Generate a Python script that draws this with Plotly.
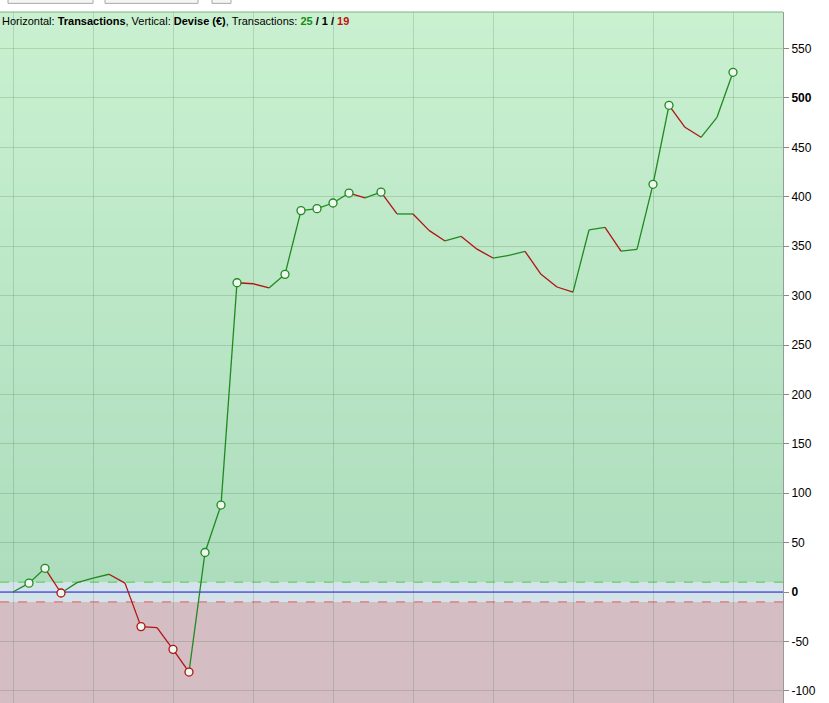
import plotly.graph_objects as go

# cumulated result after each transaction (0 = start)
trade_no = list(range(46))
equity = [0, 9, 24, -1, 9.5, 14, 18, 9, -35, -36, -58, -81, 40, 88, 313, 312,
          307.7, 321.5, 386, 388, 393.7, 403.8, 398.8, 404.8, 382.6, 382.6, 366,
          355.3, 360, 347, 338, 340.8, 344.8, 321.5, 308.7, 303.6, 366.4, 369.1,
          345, 346.8, 412.6, 492.6, 470.3, 460.2, 480.4, 526]
# points drawn with an open circle
marked = [1, 2, 3, 8, 10, 11, 12, 13, 14, 17, 18, 19, 20, 21, 23, 40, 41, 45]

y_ticks = [-100, -50, 0, 50, 100, 150, 200, 250, 300, 350, 400, 450, 500, 550]
y_ticktext = [("<b>%d</b>" % v) if v in (0, 500) else str(v) for v in y_ticks]

wins, losses, neutral = 25, 1, 19
threshold = 10

GREEN = "#1f8a1f"
RED = "#b01414"

fig = go.Figure()

# segments split by direction
gx, gy, rx, ry = [], [], [], []
for i in range(1, len(equity)):
    if equity[i] >= equity[i - 1]:
        gx += [trade_no[i - 1], trade_no[i], None]
        gy += [equity[i - 1], equity[i], None]
    else:
        rx += [trade_no[i - 1], trade_no[i], None]
        ry += [equity[i - 1], equity[i], None]

fig.add_trace(go.Scatter(x=gx, y=gy, mode="lines", line=dict(color=GREEN, width=1.3),
                         hoverinfo="skip", showlegend=False))
fig.add_trace(go.Scatter(x=rx, y=ry, mode="lines", line=dict(color=RED, width=1.3),
                         hoverinfo="skip", showlegend=False))

mcol = [RED if equity[i] < equity[i - 1] else GREEN for i in marked]
fig.add_trace(go.Scatter(
    x=[trade_no[i] for i in marked], y=[equity[i] for i in marked], mode="markers",
    marker=dict(size=8, color="#eef8ee", line=dict(color=mcol, width=1.3)),
    showlegend=False))

ymin, ymax = -112.3, 587

# background zones (vertical gradient in the green zone)
shapes = []
n = 40
top_c = (201, 241, 208)
bot_c = (173, 221, 189)
step = (ymax - threshold) / n
for k in range(n):
    t = k / (n - 1)
    c = tuple(int(round(bot_c[j] + (top_c[j] - bot_c[j]) * t)) for j in range(3))
    shapes.append(dict(type="rect", xref="paper", yref="y", x0=0, x1=1,
                       y0=threshold + k * step, y1=threshold + (k + 1) * step + 0.5,
                       fillcolor="rgb(%d,%d,%d)" % c, line_width=0, layer="below"))
shapes.append(dict(type="rect", xref="paper", yref="y", x0=0, x1=1, y0=-threshold,
                   y1=threshold, fillcolor="#d4e3ea", line_width=0, layer="below"))
shapes.append(dict(type="rect", xref="paper", yref="y", x0=0, x1=1, y0=ymin,
                   y1=-threshold, fillcolor="#d4bec4", line_width=0, layer="below"))
shapes.append(dict(type="line", xref="paper", yref="y", x0=0, x1=1, y0=threshold,
                   y1=threshold, line=dict(color="#4ccb4c", width=1, dash="dash"), layer="between"))
shapes.append(dict(type="line", xref="paper", yref="y", x0=0, x1=1, y0=-threshold,
                   y1=-threshold, line=dict(color="#e45a5a", width=1, dash="dash"), layer="between"))
shapes.append(dict(type="line", xref="paper", yref="y", x0=0, x1=1, y0=0, y1=0,
                   line=dict(color="#1c1ce8", width=1), layer="between"))
# top border
shapes.append(dict(type="line", xref="paper", yref="paper", x0=0, x1=1, y0=1, y1=1,
                   line=dict(color="#7fb08a", width=1)))
# cut-off toolbar buttons above the chart
for x0, x1 in [(8, 93), (105, 198), (212, 231)]:
    shapes.append(dict(type="rect", xref="paper", yref="paper", x0=x0 / 783, x1=x1 / 783,
                       y0=1.0125, y1=1.04, fillcolor="#f5f5f5",
                       line=dict(color="#a8a8a8", width=1)))

fig.update_layout(
    width=829, height=703,
    margin=dict(l=0, r=46, t=12, b=0, autoexpand=False),
    paper_bgcolor="white", plot_bgcolor="#c0ecc8",
    shapes=shapes,
    font=dict(family="Liberation Sans, Arial", size=12, color="black"),
    xaxis=dict(range=[-0.8125, 48.125], dtick=5, tick0=0, showticklabels=False,
               showgrid=True, gridcolor="rgba(60,90,60,0.19)", zeroline=False, ticks=""),
    yaxis=dict(range=[ymin, ymax], side="right", tickvals=y_ticks, ticktext=y_ticktext,
               showgrid=True, gridcolor="rgba(60,90,60,0.19)", zeroline=False,
               ticks="outside", ticklen=5, tickcolor="#888888",
               showline=True, linecolor="#999999", linewidth=1),
    annotations=[dict(
        xref="paper", yref="paper", x=0.0, y=0.999, xanchor="left", yanchor="top",
        showarrow=False, align="left", font=dict(size=11),
        text=("Horizontal: <b>Transactions</b>, Vertical: <b>Devise (€)</b>, Transactions: "
              "<b><span style='color:#1a8a1a'>%d</span> / %d / "
              "<span style='color:#c01010'>%d</span></b>") % (wins, losses, neutral))],
)

# drop the browser's default page margin so the chart starts at the corner
fig.write_html("out.html", config={"displayModeBar": False},
               post_script="document.body.style.margin='0';")
